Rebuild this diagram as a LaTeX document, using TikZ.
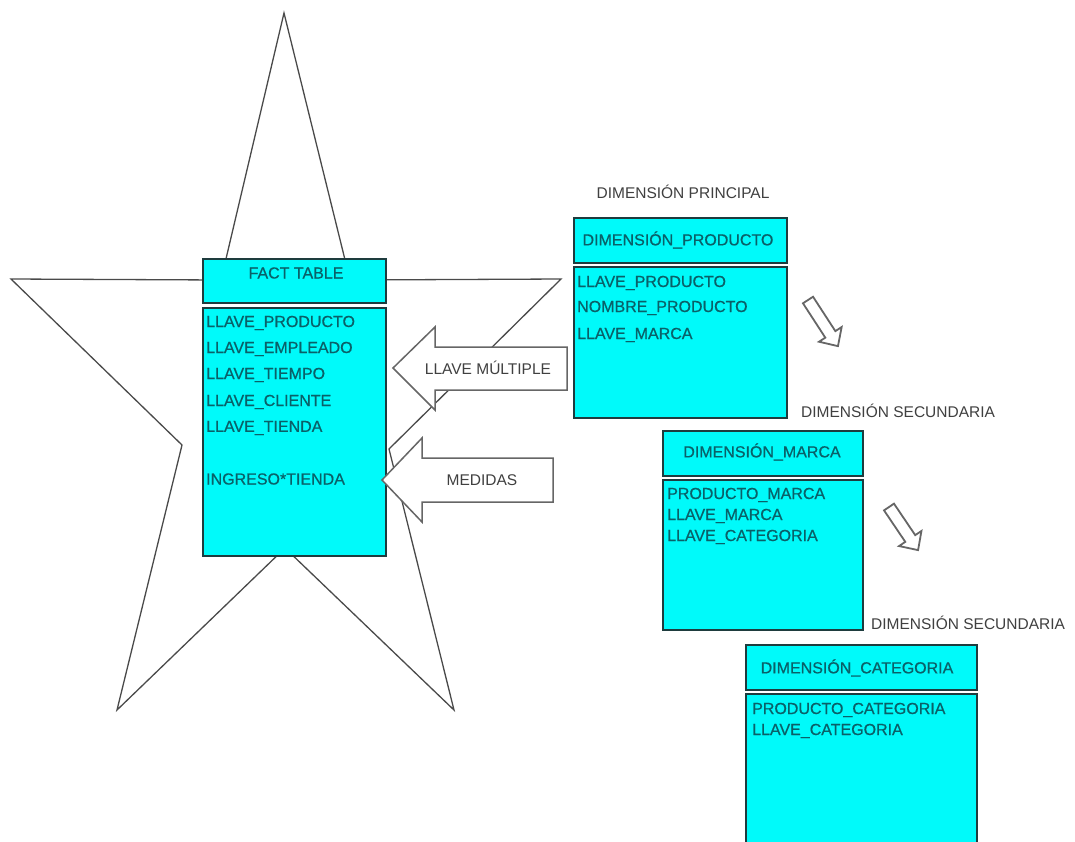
\documentclass[tikz,border=0pt]{standalone}
\usepackage{fontspec}
\setmainfont{Liberation Sans}
\newfontfamily\fieldfont{Liberation Sans}[UprightFeatures={FakeBold=0.6}]
\definecolor{tablefill}{HTML}{00FAFA}
\definecolor{tableline}{HTML}{1E3C3E}
\definecolor{fieldtext}{HTML}{0A6068}
\definecolor{labeltext}{HTML}{404040}
\definecolor{starline}{HTML}{4A4A4A}
\definecolor{arrowline}{HTML}{666666}
\begin{document}
\begin{tikzpicture}[x=1pt,y=-1pt,
  tablebox/.style={draw=tableline, fill=tablefill, line width=2pt, rectangle, inner sep=0pt},
  titletext/.style={text=fieldtext, font=\fieldfont\fontsize{16}{18}\selectfont, inner sep=0pt},
  fieldtext/.style={text=fieldtext, font=\fieldfont\fontsize{16}{18}\selectfont, anchor=west, inner sep=0pt},
  labeltext/.style={text=labeltext, font=\fontsize{15.5}{18}\selectfont, inner sep=0pt},
  starshape/.style={draw=starline, line width=1.3pt, line join=miter},
  fatarrow/.style={draw=arrowline, fill=white, line width=1.5pt, line join=miter},
  thinarrow/.style={draw=arrowline, fill=white, line width=1.8pt, line join=miter}]
\useasboundingbox (0,0) rectangle (1075,841);
\clip (0,0) rectangle (1075,841);
\fill[white] (0,0) rectangle (1075,841);

% the star behind the fact table
\draw[starshape] (284,13) -- (350,280) -- (561,279) -- (389,449) -- (454,710)
  -- (285,548) -- (117,710) -- (182,445) -- (11,279) -- (221,280) -- cycle;

% fact table
\node[tablebox, minimum width=183pt, minimum height=44pt] (facthead) at (294.5,281) {};
\node[tablebox, minimum width=183pt, minimum height=248pt] (factbody) at (294.5,432) {};
\node[titletext] (facttitle) at (296,273) {FACT TABLE};
\node[fieldtext] (f1) at (206,323) {LLAVE\_PRODUCTO};
\node[fieldtext] (f2) at (206,349) {LLAVE\_EMPLEADO};
\node[fieldtext] (f3) at (206,375) {LLAVE\_TIEMPO};
\node[fieldtext] (f4) at (206,402) {LLAVE\_CLIENTE};
\node[fieldtext] (f5) at (206,428) {LLAVE\_TIENDA};
\node[fieldtext] (f6) at (206,479) {INGRESO*TIENDA};

% block arrows pointing at the fact table
\draw[fatarrow] (393,368) -- (435,327) -- (435,347) -- (567,347) -- (567,390)
  -- (435,390) -- (435,410) -- cycle;
\node[labeltext] (llave) at (488,368) {LLAVE MÚLTIPLE};
\draw[fatarrow] (382,480) -- (422,438) -- (422,458) -- (553,458) -- (553,502)
  -- (422,502) -- (422,522) -- cycle;
\node[labeltext] (medidas) at (482,480) {MEDIDAS};

% main dimension
\node[labeltext] (principal) at (683,192) {DIMENSIÓN PRINCIPAL};
\node[tablebox, minimum width=213pt, minimum height=45pt] (prodhead) at (680.5,240.5) {};
\node[tablebox, minimum width=213pt, minimum height=151pt] (prodbody) at (680.5,342.5) {};
\node[titletext] (prodtitle) at (678,240) {DIMENSIÓN\_PRODUCTO};
\node[fieldtext] (p1) at (577,283) {LLAVE\_PRODUCTO};
\node[fieldtext] (p2) at (577,308) {NOMBRE\_PRODUCTO};
\node[fieldtext] (p3) at (577,335) {LLAVE\_MARCA};

% first secondary dimension
\node[labeltext, anchor=west] (sec1) at (801,411) {DIMENSIÓN SECUNDARIA};
\node[tablebox, minimum width=200pt, minimum height=45pt] (marcahead) at (763,453.5) {};
\node[tablebox, minimum width=200pt, minimum height=150pt] (marcabody) at (763,555) {};
\node[titletext] (marcatitle) at (762,452) {DIMENSIÓN\_MARCA};
\node[fieldtext] (m1) at (667,495) {PRODUCTO\_MARCA};
\node[fieldtext] (m2) at (667,516) {LLAVE\_MARCA};
\node[fieldtext] (m3) at (667,537) {LLAVE\_CATEGORIA};

% second secondary dimension
\node[labeltext, anchor=west] (sec2) at (871,623) {DIMENSIÓN SECUNDARIA};
\node[tablebox, minimum width=231pt, minimum height=45pt] (cathead) at (861.5,667.5) {};
\node[tablebox, minimum width=231pt, minimum height=176pt] (catbody) at (861.5,782) {};
\node[titletext] (cattitle) at (857,668) {DIMENSIÓN\_CATEGORIA};
\node[fieldtext] (c1) at (752,710) {PRODUCTO\_CATEGORIA};
\node[fieldtext] (c2) at (752,731) {LLAVE\_CATEGORIA};

% small hollow arrows between the dimensions
\begin{scope}[shift={(808,300)}, rotate=-57]
  \draw[thinarrow] (0,-6) -- (41,-6) -- (41,-13.5) -- (55,0) -- (41,13.5)
    -- (41,6) -- (0,6) -- cycle;
\end{scope}
\begin{scope}[shift={(889,507)}, rotate=-56]
  \draw[thinarrow] (0,-6) -- (38,-6) -- (38,-13.5) -- (52,0) -- (38,13.5)
    -- (38,6) -- (0,6) -- cycle;
\end{scope}
\end{tikzpicture}
\end{document}
